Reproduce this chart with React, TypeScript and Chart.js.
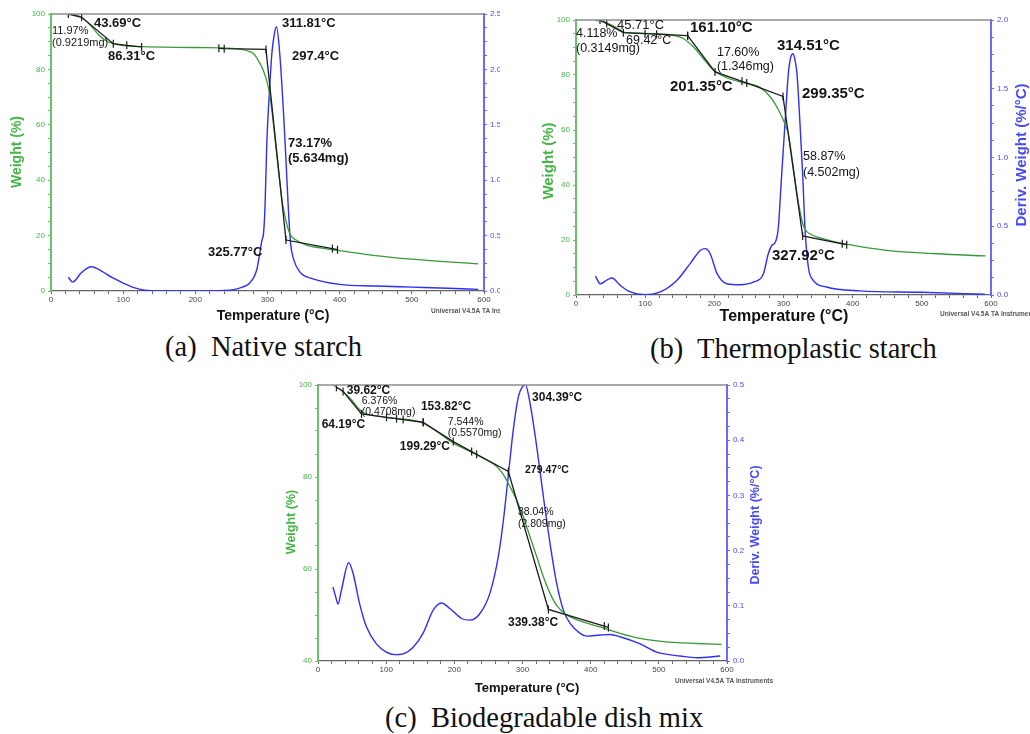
import React, { useEffect, useRef } from 'react';
import { Chart, registerables } from 'chart.js';

Chart.register(...registerables);

// ---------- Panel (a) Native starch ----------
const aWeightT = [25, 35, 45, 55, 65, 75, 86, 100, 125, 200, 250, 265, 275, 280, 285, 294, 301, 305, 310, 315, 320, 325, 329, 333, 340, 354, 375, 400, 450, 500, 550, 592];
const aWeight = [100, 99.6, 98.3, 95.8, 92.8, 90.5, 89.3, 88.6, 88.2, 87.9, 87.6, 87.2, 86.4, 85.8, 84.2, 79.8, 73.8, 67.5, 56, 44, 33, 26, 22, 19.8, 18.3, 16.6, 15.5, 14.6, 12.8, 11.5, 10.5, 9.8];
const aDerivT = [24, 30, 42, 56, 70, 85, 100, 115, 130, 150, 200, 240, 255, 265, 275, 285, 289, 292, 294.5, 296.5, 299, 302.5, 306, 309.5, 312.5, 317, 322, 325.6, 329, 332, 336, 345, 363, 400, 450, 500, 550, 592];
const aDeriv = [0.124, 0.08, 0.165, 0.219, 0.18, 0.12, 0.072, 0.03, 0.007, 0, 0, 0.004, 0.015, 0.035, 0.07, 0.19, 0.33, 0.45, 0.52, 0.75, 1.33, 1.78, 2.14, 2.32, 2.385, 2.14, 1.63, 1.18, 0.73, 0.43, 0.29, 0.17, 0.11, 0.06, 0.045, 0.035, 0.025, 0.015];
const aStep1T = [24, 42.5, 86.3, 105, 125.6];
const aStep1W = [100, 98.8, 89.3, 88.7, 88.1];
const aStep2T = [232.6, 240, 297.9, 325.6, 390, 397];
const aStep2W = [87.6, 87.5, 87.2, 18.4, 15.3, 14.9];
const aLabelText = ['43.69°C', '11.97%', '(0.9219mg)', '86.31°C', '311.81°C', '297.4°C', '73.17%', '(5.634mg)', '325.77°C'];
const aLabelT = [59.6, 1.4, 1.4, 79, 320, 334, 328.4, 328.4, 217.5];
const aLabelW = [96.75, 93.9, 89.5, 84.8, 96.75, 84.8, 53.4, 48, 14.1];

// ---------- Panel (b) Thermoplastic starch ----------
const bWeightT = [28, 45, 64, 69, 90, 112, 136, 155.5, 170, 184, 199, 218, 247, 266, 281, 293, 302, 307, 310, 315, 320, 325, 329, 333, 340, 353, 391, 449, 521, 592];
const bWeight = [100, 98.9, 96.4, 95.6, 95.2, 95, 94.6, 93.2, 90.2, 86, 81.7, 79, 76.9, 75.5, 72, 67.2, 62.3, 58.7, 54, 45, 36, 29, 25, 23.2, 22, 20.8, 18.5, 16.2, 15, 14.2];
const bDerivT = [28, 35, 45, 52, 64, 78.5, 100, 122, 146, 165, 180, 187, 194, 204, 218, 237, 257, 271, 278, 283, 287, 290, 292.5, 297.4, 302.2, 307, 310.5, 313.8, 317, 319.5, 323.8, 327.7, 331, 336, 343, 362, 410, 500, 591];
const bDeriv = [0.138, 0.082, 0.11, 0.124, 0.07, 0.022, 0.003, 0.022, 0.107, 0.228, 0.325, 0.337, 0.3, 0.155, 0.082, 0.075, 0.095, 0.155, 0.3, 0.36, 0.375, 0.41, 0.49, 0.88, 1.25, 1.61, 1.73, 1.755, 1.7, 1.61, 1.25, 0.88, 0.49, 0.2, 0.107, 0.058, 0.03, 0.02, 0.005];
const bStep1T = [34.7, 44.4, 68.4, 99.8, 116.6, 161.4];
const bStep1W = [100, 98.7, 95.4, 95.03, 94.83, 94.3];
const bStep2T = [161.4, 201, 240, 246.8, 299.3, 327.7, 385, 391.4];
const bStep2W = [94.3, 81.1, 77.7, 77.1, 72.2, 21.5, 18.6, 18.3];
const bLabelText = ['45.71°C', '4.118%', '(0.3149mg)', '69.42°C', '161.10°C', '17.60%', '(1.346mg)', '314.51°C', '201.35°C', '299.35°C', '58.87%', '(4.502mg)', '327.92°C'];
const bLabelT = [59.3, 0, 0, 72.3, 164.8, 203.8, 203.8, 290.6, 135.9, 326.7, 328.2, 328.2, 283.4];
const bLabelW = [98.2, 94.9, 89.8, 92.7, 97.1, 88, 82.9, 90.5, 75.6, 73.1, 50.2, 44.7, 14.2];

// ---------- Panel (c) Biodegradable dish mix ----------
const cWeightT = [22, 36.7, 49, 61.2, 71, 90.6, 115, 139.6, 154, 174, 198, 227.8, 247, 262, 272, 281.6, 291.4, 301, 311, 320.8, 330.6, 340.4, 350, 365, 384.5, 413.9, 443, 472.7, 507, 556, 592];
const cWeight = [100, 98.6, 96.8, 94.6, 93.7, 93.2, 92.7, 92.3, 91.7, 89.9, 87.4, 85.2, 83.7, 82.3, 80.5, 77.9, 75, 71.4, 67, 62.7, 58.3, 54.7, 52.1, 50, 48.7, 47.4, 46, 44.9, 44.2, 43.8, 43.6];
const cDerivT = [22, 26, 29.4, 34.3, 45, 51.4, 61, 71, 85.7, 100, 112.7, 125, 139.6, 154, 169, 181, 193.5, 210.6, 222.9, 237.6, 252, 264.5, 272, 279, 286.5, 294, 300, 304.4, 311, 320.8, 330.6, 340.4, 350.2, 360, 369.8, 384.5, 394.3, 413.9, 428.6, 443, 472.7, 497, 531.4, 556, 590];
const cDeriv = [0.134, 0.116, 0.103, 0.128, 0.178, 0.159, 0.104, 0.062, 0.031, 0.016, 0.0115, 0.013, 0.025, 0.05, 0.092, 0.105, 0.095, 0.077, 0.074, 0.086, 0.122, 0.189, 0.255, 0.334, 0.419, 0.479, 0.497, 0.5, 0.467, 0.389, 0.298, 0.213, 0.14, 0.092, 0.068, 0.05, 0.045, 0.047, 0.048, 0.044, 0.031, 0.016, 0.009, 0.006, 0.009];
const cStep1T = [27, 36.8, 63.8, 100.5, 115.2, 124.9, 154.3];
const cStep1W = [99.5, 98.6, 93.7, 92.97, 92.68, 92.49, 91.9];
const cStep2T = [154.3, 198.4, 225.4, 232.7, 279.2, 338, 420, 426];
const cStep2W = [91.9, 87.7, 85.53, 84.94, 81.2, 51.2, 47.6, 47.3];
const cLabelText = ['39.62°C', '6.376%', '(0.4708mg)', '153.82°C', '64.19°C', '7.544%', '(0.5570mg)', '199.29°C', '304.39°C', '279.47°C', '38.04%', '(2.809mg)', '339.38°C'];
const cLabelT = [42.2, 64.2, 64.2, 151, 5.4, 190.5, 190.5, 120, 314, 303.7, 293.3, 293.3, 278.7];
const cLabelW = [98.76, 96.6, 94.2, 95.3, 91.4, 92, 89.6, 86.6, 97.2, 81.6, 72.4, 69.8, 48.4];

const SANS = '"Liberation Sans", Arial, Helvetica, sans-serif';
const GREEN_TXT = '#45b545';
const GREEN_AX = '#6cc06c';
const GREEN_LINE = '#3a9a3a';
const BLUE_TXT = '#4a4af5';
const BLUE_AX = '#6a6aff';
const BLUE_LINE = '#2f2ff5';

const pts = (xs: number[], ys: number[]) => xs.map((x, i) => ({ x, y: ys[i] }));
const isMult = (v: number, m: number) => Math.abs(v / m - Math.round(v / m)) < 1e-6;

type Title = { x: number; y: number; size: number; text: string; color: string; rot: boolean };

type PanelCfg = {
  box: { x: number; y: number; w: number; h: number };
  area: { l: number; t: number; r: number; b: number };
  yMin: number;
  y1Max: number;
  y1Major: number;
  y1Minor: number;
  weightT: number[];
  weight: number[];
  derivT: number[];
  deriv: number[];
  steps: [number[], number[]][];
  labelText: string[];
  labelT: number[];
  labelW: number[];
  labelFonts: string[];
  titles: Title[];
  stamp: { x: number; y: number };
};

const B = (s: number) => `bold ${s}px ${SANS}`;
const N = (s: number) => `${s}px ${SANS}`;

const panels: PanelCfg[] = [
  {
    box: { x: 0, y: 0, w: 500, h: 330 },
    area: { l: 51, t: 14, r: 484, b: 291 },
    yMin: 0, y1Max: 2.5, y1Major: 0.5, y1Minor: 0.125,
    weightT: aWeightT, weight: aWeight, derivT: aDerivT, deriv: aDeriv,
    steps: [[aStep1T, aStep1W], [aStep2T, aStep2W]],
    labelText: aLabelText, labelT: aLabelT, labelW: aLabelW,
    labelFonts: [B(13), N(11), N(11), B(13), B(13), B(13), B(13), B(13), B(13)],
    titles: [
      { x: 17, y: 152, size: 14, text: 'Weight (%)', color: GREEN_TXT, rot: true },
      { x: 273, y: 316, size: 14, text: 'Temperature (°C)', color: '#111', rot: false },
    ],
    stamp: { x: 431, y: 311 },
  },
  {
    box: { x: 520, y: 0, w: 510, h: 330 },
    area: { l: 576, t: 20, r: 991, b: 295 },
    yMin: 0, y1Max: 2.0, y1Major: 0.5, y1Minor: 0.125,
    weightT: bWeightT, weight: bWeight, derivT: bDerivT, deriv: bDeriv,
    steps: [[bStep1T, bStep1W], [bStep2T, bStep2W]],
    labelText: bLabelText, labelT: bLabelT, labelW: bLabelW,
    labelFonts: [N(13), N(12.5), N(12.5), N(12.5), B(15), N(12.5), N(12.5), B(15), B(15), B(15), N(12.5), N(12.5), B(15)],
    titles: [
      { x: 549, y: 161, size: 15, text: 'Weight (%)', color: GREEN_TXT, rot: true },
      { x: 1022, y: 155, size: 15, text: 'Deriv. Weight (%/°C)', color: BLUE_TXT, rot: true },
      { x: 784, y: 317, size: 16, text: 'Temperature (°C)', color: '#111', rot: false },
    ],
    stamp: { x: 940, y: 314 },
  },
  {
    box: { x: 280, y: 370, w: 500, h: 330 },
    area: { l: 318, t: 385, r: 727, b: 661 },
    yMin: 40, y1Max: 0.5, y1Major: 0.1, y1Minor: 0.025,
    weightT: cWeightT, weight: cWeight, derivT: cDerivT, deriv: cDeriv,
    steps: [[cStep1T, cStep1W], [cStep2T, cStep2W]],
    labelText: cLabelText, labelT: cLabelT, labelW: cLabelW,
    labelFonts: [B(12), N(10.5), N(10.5), B(12), B(12), N(10.5), N(10.5), B(12), B(12), B(10.5), N(10.5), N(10.5), B(12)],
    titles: [
      { x: 292, y: 522, size: 12.5, text: 'Weight (%)', color: GREEN_TXT, rot: true },
      { x: 756, y: 525, size: 12.5, text: 'Deriv. Weight (%/°C)', color: BLUE_TXT, rot: true },
      { x: 527, y: 688, size: 13, text: 'Temperature (°C)', color: '#111', rot: false },
    ],
    stamp: { x: 675, y: 681 },
  },
];

function Panel({ cfg }: { cfg: PanelCfg }) {
  const ref = useRef<HTMLCanvasElement>(null);
  useEffect(() => {
    const { box, area } = cfg;
    const overlay = {
      id: 'overlay',
      afterDraw(chart: any) {
        const ctx = chart.ctx as CanvasRenderingContext2D;
        const ca = chart.chartArea;
        ctx.save();
        ctx.strokeStyle = '#8c8c8c';
        ctx.lineWidth = 1.5;
        ctx.beginPath();
        ctx.moveTo(ca.left, ca.top);
        ctx.lineTo(ca.right, ca.top);
        ctx.stroke();
        const xs = chart.scales.x;
        const ys = chart.scales.y;
        ctx.fillStyle = '#151515';
        ctx.textBaseline = 'middle';
        ctx.textAlign = 'left';
        cfg.labelText.forEach((t, i) => {
          ctx.font = cfg.labelFonts[i];
          ctx.fillText(t, xs.getPixelForValue(cfg.labelT[i]), ys.getPixelForValue(cfg.labelW[i]));
        });
        for (const tt of cfg.titles) {
          ctx.save();
          ctx.translate(tt.x - box.x, tt.y - box.y);
          if (tt.rot) ctx.rotate(-Math.PI / 2);
          ctx.font = B(tt.size);
          ctx.fillStyle = tt.color;
          ctx.textAlign = 'center';
          ctx.fillText(tt.text, 0, 0);
          ctx.restore();
        }
        ctx.font = B(6.5);
        ctx.fillStyle = '#555';
        ctx.textAlign = 'left';
        ctx.fillText('Universal V4.5A TA Instruments', cfg.stamp.x - box.x, cfg.stamp.y - box.y);
        ctx.restore();
      },
    };

    const stepSets = cfg.steps.map(([t, w]) => ({
      data: pts(t, w),
      borderColor: '#1c1c1c',
      borderWidth: 1.3,
      pointStyle: 'line' as const,
      pointRotation: 90,
      pointRadius: 4,
      pointBorderColor: '#1c1c1c',
      pointBorderWidth: 1.2,
      tension: 0,
      yAxisID: 'y',
    }));

    const chart = new Chart(ref.current!, {
      type: 'line',
      data: {
        datasets: [
          ...stepSets,
          {
            data: pts(cfg.weightT, cfg.weight),
            borderColor: GREEN_LINE,
            borderWidth: 1.3,
            pointRadius: 0,
            cubicInterpolationMode: 'monotone',
            yAxisID: 'y',
          },
          {
            data: pts(cfg.derivT, cfg.deriv),
            borderColor: BLUE_LINE,
            borderWidth: 1.4,
            pointRadius: 0,
            cubicInterpolationMode: 'monotone',
            yAxisID: 'y1',
          },
        ] as any,
      },
      options: {
        animation: false,
        responsive: false,
        events: [],
        layout: { padding: { top: area.t - box.y, left: 0, right: 0, bottom: 0 } },
        plugins: { legend: { display: false }, tooltip: { enabled: false } },
        scales: {
          x: {
            type: 'linear',
            min: 0,
            max: 600,
            ticks: {
              stepSize: 20,
              autoSkip: false,
              maxRotation: 0,
              color: '#444',
              font: { size: 8, family: SANS },
              padding: 1,
              callback: (v: any) => (isMult(Number(v), 100) ? String(v) : ''),
            },
            grid: { drawOnChartArea: false, drawTicks: true, tickLength: 3, color: '#666' },
            border: { display: true, color: '#666', width: 1.3 },
            afterFit: (s: any) => { s.height = box.y + box.h - area.b; },
          },
          y: {
            type: 'linear',
            position: 'left',
            min: cfg.yMin,
            max: 100,
            ticks: {
              stepSize: 5,
              autoSkip: false,
              color: GREEN_TXT,
              font: { size: 8, family: SANS },
              padding: 3,
              callback: (v: any) => (isMult(Number(v), 20) ? String(v) : ''),
            },
            grid: { drawOnChartArea: false, drawTicks: true, tickLength: 3, color: GREEN_AX },
            border: { display: true, color: GREEN_AX, width: 2 },
            afterFit: (s: any) => { s.width = area.l - box.x; },
          },
          y1: {
            type: 'linear',
            position: 'right',
            min: 0,
            max: cfg.y1Max,
            ticks: {
              stepSize: cfg.y1Minor,
              autoSkip: false,
              color: BLUE_TXT,
              font: { size: 8, family: SANS },
              padding: 3,
              callback: (v: any) => (isMult(Number(v), cfg.y1Major) ? Number(v).toFixed(1) : ''),
            },
            grid: { drawOnChartArea: false, drawTicks: true, tickLength: 3, color: BLUE_AX },
            border: { display: true, color: BLUE_AX, width: 2 },
            afterFit: (s: any) => { s.width = box.x + box.w - area.r; },
          },
        },
      } as any,
      plugins: [overlay],
    });
    return () => chart.destroy();
  }, [cfg]);
  return (
    <canvas
      ref={ref}
      width={cfg.box.w}
      height={cfg.box.h}
      style={{ position: 'absolute', left: cfg.box.x, top: cfg.box.y, width: cfg.box.w, height: cfg.box.h }}
    />
  );
}

const captions = [
  { text: '(a)  Native starch', x: 165, y: 332 },
  { text: '(b)  Thermoplastic starch', x: 650, y: 334 },
  { text: '(c)  Biodegradable dish mix', x: 385, y: 703 },
];

export default function App() {
  return (
    <div style={{ position: 'absolute', left: 0, top: 0, width: 1030, height: 734, background: '#fff', overflow: 'hidden' }}>
      {panels.map((p, i) => (
        <Panel key={i} cfg={p} />
      ))}
      {captions.map((c, i) => (
        <div
          key={i}
          style={{
            position: 'absolute',
            left: c.x,
            top: c.y,
            fontFamily: '"Liberation Serif", "Times New Roman", serif',
            fontSize: 28.5,
            lineHeight: '30px',
            whiteSpace: 'pre',
            color: '#111',
          }}
        >
          {c.text}
        </div>
      ))}
    </div>
  );
}
